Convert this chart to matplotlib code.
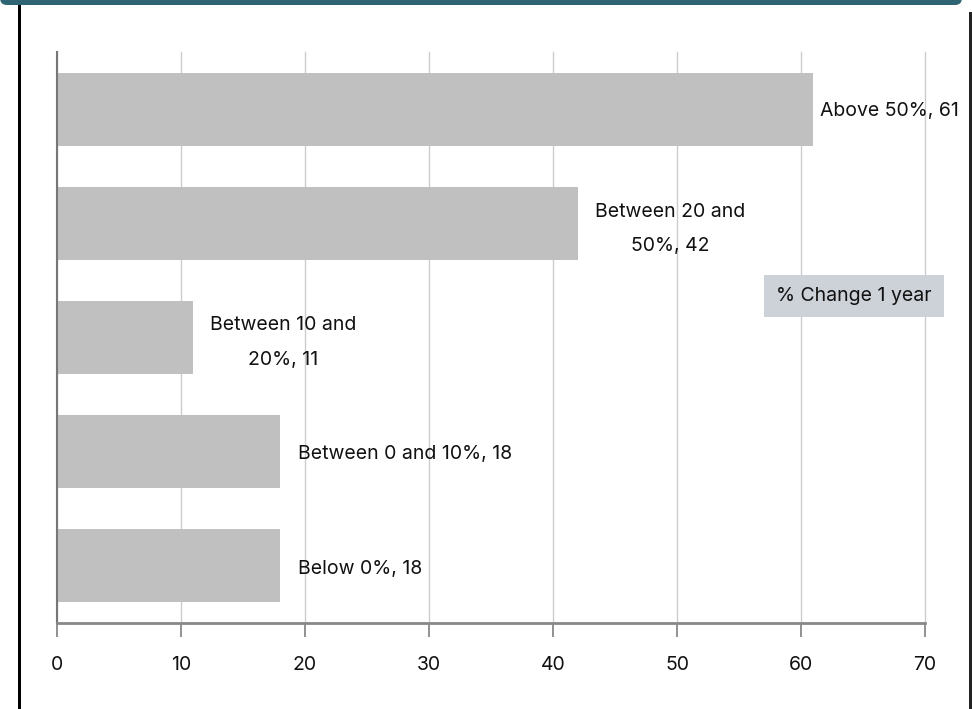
import matplotlib
matplotlib.use("Agg")
import matplotlib.pyplot as plt
from matplotlib.patches import Rectangle, FancyBboxPatch

# data, bottom to top
categories = ["Below 0%", "Between 0 and 10%", "Between 10 and 20%",
              "Between 20 and 50%", "Above 50%"]
values = [18, 18, 11, 42, 61]
labels = ["Below 0%, 18", "Between 0 and 10%, 18", "Between 10 and\n20%, 11",
          "Between 20 and\n50%, 42", "Above 50%, 61"]
xticks = [0, 10, 20, 30, 40, 50, 60, 70]

plt.rcParams['font.family'] = ['Inter', 'DejaVu Sans']

W, H = 972, 709
fig = plt.figure(figsize=(W / 100, H / 100), dpi=100)

# frame: teal header strip and side lines
fig.patches.append(FancyBboxPatch((0, H - 5), 962, 20, boxstyle="round,pad=0,rounding_size=7",
                                  transform=None, facecolor="#2e6473", edgecolor="none"))
fig.patches.append(Rectangle((18, 0), 3, H - 5, transform=None,
                             facecolor="black", edgecolor="none"))
fig.patches.append(Rectangle((969, 0), 3, H - 12, transform=None,
                             facecolor="#222222", edgecolor="none"))

ax = fig.add_axes([57 / W, (H - 623) / H, (925 - 57) / W, (623 - 52) / H])
ax.barh(range(len(values)), values, height=0.64, color="#c0c0c0", zorder=2)
ax.set_xlim(0, 70)
ax.set_ylim(-0.5, len(values) - 0.5)
ax.set_xticks(xticks)
ax.set_xticklabels([str(t) for t in xticks], fontsize=14, color="#111111")
ax.set_yticks([])
ax.grid(axis="x", color="#cccccc", linewidth=1, zorder=0)
for gl in ax.get_xgridlines():
    gl.set_clip_on(False)
ax.tick_params(axis="x", length=10, width=1.3, color="#888888", pad=14)
for s in ["top", "right"]:
    ax.spines[s].set_visible(False)
ax.spines["bottom"].set_color("#888888")
ax.spines["bottom"].set_linewidth(2)
ax.spines["left"].set_color("#777777")
ax.spines["left"].set_linewidth(1.5)

offsets = [(18, -3), (18, -2), (17, -5), (17, -6), (7, -2)]
for i, (v, lab) in enumerate(zip(values, labels)):
    ax.annotate(lab, (v, i), xytext=offsets[i], textcoords="offset pixels",
                ha="left", va="center", multialignment="center",
                fontsize=14, color="#111111", linespacing=2.15)

fig.text(854 / W, 1 - 296 / H, "% Change 1 year", ha="center", va="center",
         fontsize=14, color="#111111",
         bbox=dict(boxstyle="square,pad=0.62", facecolor="#cdd1d8", edgecolor="none"))

fig.savefig("out.png", dpi=100)
